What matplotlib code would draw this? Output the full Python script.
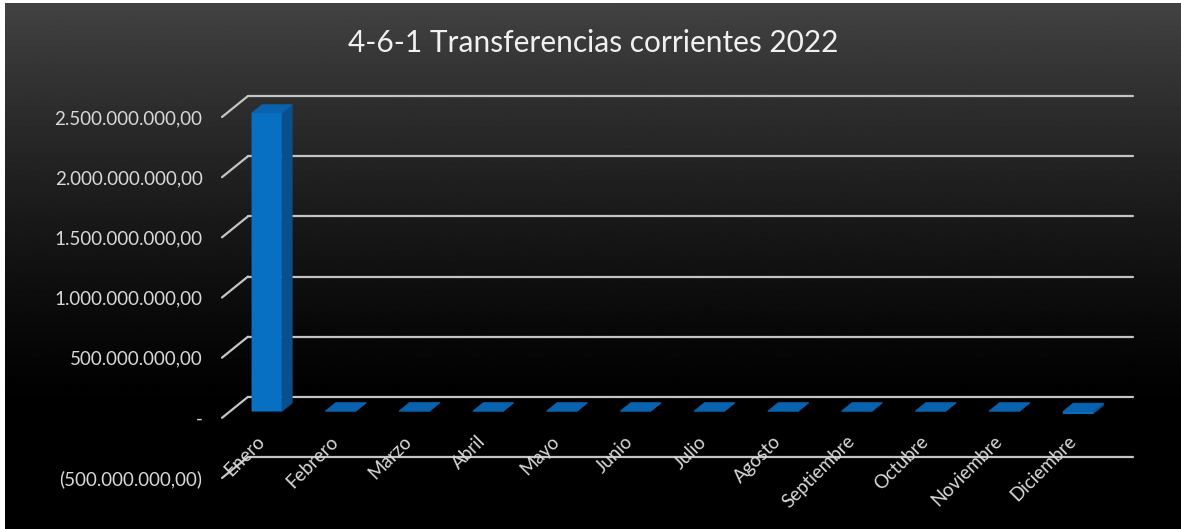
import matplotlib
matplotlib.use("Agg")
import matplotlib.pyplot as plt
from matplotlib.patches import Polygon
from matplotlib.ticker import FuncFormatter
import numpy as np

# chart data
MESES = [
    "Enero", "Febrero", "Marzo", "Abril", "Mayo", "Junio",
    "Julio", "Agosto", "Septiembre", "Octubre", "Noviembre", "Diciembre",
]
VALORES = [
    2.48e9, 4e6, 5e6, 4e6, 4e6, 4e6,
    4e6, 4e6, 4e6, 4e6, 4e6, -2.0e7,
]
Y_TICKS = [-5e8, 0, 5e8, 1e9, 1.5e9, 2e9, 2.5e9]
TITULO = "4-6-1 Transferencias corrientes 2022"

W, H = 1181, 529
FONT = "Lato"
GRID = "#c4c4c4"
FRONT = "#0870c2"
SIDE = "#0a4f8c"
TOP = "#0862ad"


def fmt_es(v, _):
    # spanish number format, negatives in parentheses, zero as a dash
    if abs(v) < 1:
        return "-"
    s = f"{abs(v):,.2f}".replace(",", "X").replace(".", ",").replace("X", ".")
    return f"({s})" if v < 0 else s


def main() -> None:
    fig = plt.figure(figsize=(W / 100, H / 100), dpi=100, facecolor="white")

    # dark gradient background of the chart area
    bg = fig.add_axes([5 / W, 0, (W - 5) / W, (H - 3) / H])
    bg.axis("off")
    t = np.linspace(0, 1, 500)
    grad = 0.26 * np.clip(1 - t / 0.78, 0, 1) ** 1.3
    bg.imshow(grad[:, None], aspect="auto", cmap="gray", vmin=0, vmax=1,
              extent=[0, 1, 0, 1], interpolation="bilinear")

    ax = fig.add_axes([222 / W, (H - 478) / H, 885 / W, 361 / H])
    ax.set_xlim(-0.5, len(MESES) - 0.5)
    ax.set_ylim(Y_TICKS[0], Y_TICKS[-1])
    ax.patch.set_visible(False)
    for s in ax.spines.values():
        s.set_visible(False)

    # depth of the 3d box, in data units
    px_x = len(MESES) / 885
    px_y = (Y_TICKS[-1] - Y_TICKS[0]) / 361
    dx, dy = 26 * px_x, 21 * px_y
    x0, x1 = -0.5, len(MESES) - 0.5

    for yt in Y_TICKS:
        ax.plot([x0, x0 + dx], [yt, yt + dy], color=GRID, lw=1.6,
                solid_capstyle="round", clip_on=False, zorder=1)
        ax.plot([x0 + dx, x1 + dx], [yt + dy, yt + dy], color=GRID, lw=1.6,
                solid_capstyle="round", clip_on=False, zorder=1)

    # bars: front face through ax.bar, side and top faces as polygons
    f0, f1 = 0.3, 0.7
    bw = 0.41
    x = np.arange(len(MESES))
    xf = x + f0 * dx
    yb = f0 * dy
    bars = ax.bar(xf, VALORES, width=bw, bottom=yb, color=FRONT,
                  linewidth=0, zorder=4)
    for b in bars:
        b.set_snap(False)
        b.set_clip_on(False)
    ddx, ddy = (f1 - f0) * dx, (f1 - f0) * dy
    for xc, v in zip(xf, VALORES):
        lo, hi = min(0, v), max(0, v)
        left, right = xc - bw / 2, xc + bw / 2
        side = [(right, yb + lo), (right + ddx, yb + lo + ddy),
                (right + ddx, yb + hi + ddy), (right, yb + hi)]
        top = [(left, yb + hi), (right, yb + hi),
               (right + ddx, yb + hi + ddy), (left + ddx, yb + hi + ddy)]
        ax.add_patch(Polygon(side, closed=True, facecolor=SIDE,
                             edgecolor=SIDE, lw=0.5, zorder=3, clip_on=False))
        ax.add_patch(Polygon(top, closed=True, facecolor=TOP, edgecolor=TOP,
                             lw=0.5, zorder=3, clip_on=False))

    ax.set_yticks(Y_TICKS)
    ax.yaxis.set_major_formatter(FuncFormatter(fmt_es))
    ax.tick_params(axis="y", length=0, pad=14, labelcolor="#d9d9d9",
                   labelsize=13.5)
    for lab in ax.get_yticklabels():
        lab.set_family(FONT)
    ax.set_xticks([])

    for xc, mes in zip(x, MESES):
        ax.annotate(mes, xy=(xc, 0), xytext=(2, -15),
                    textcoords="offset points", rotation=45,
                    rotation_mode="anchor", ha="right", va="center",
                    fontsize=13.5, color="#d9d9d9", family=FONT,
                    annotation_clip=False)

    fig.text(593 / W, 1 - 43 / H, TITULO, ha="center", va="center",
             fontsize=21.5, color="#f0f0f0", family=FONT)

    fig.savefig("out.png", dpi=100)


if __name__ == "__main__":
    main()
